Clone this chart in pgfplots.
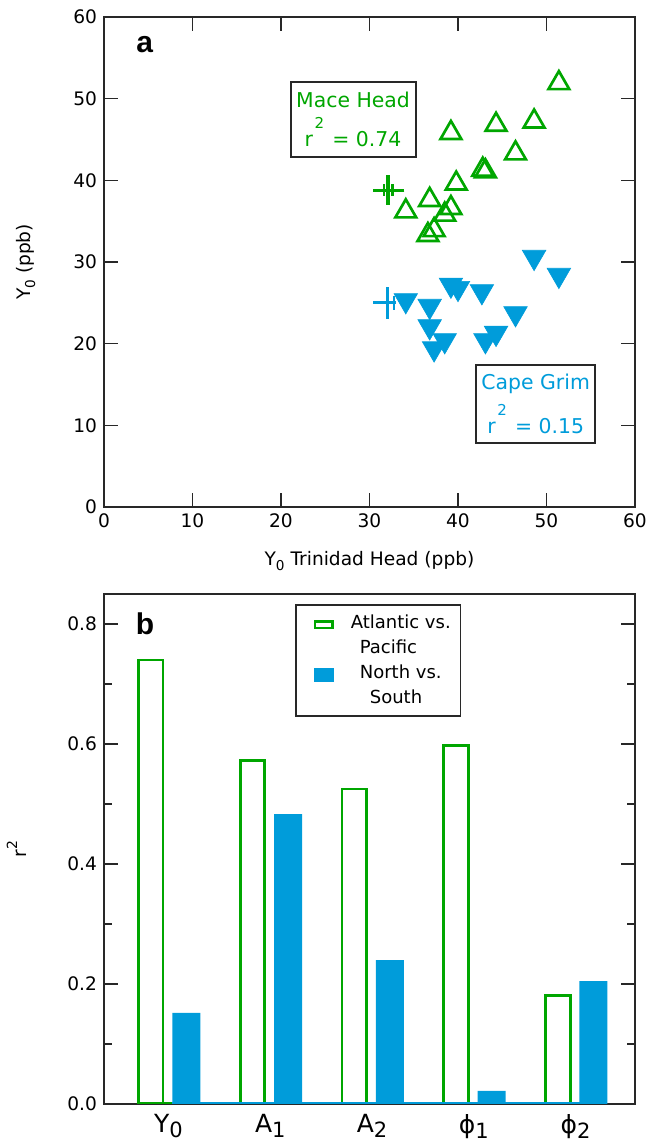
\documentclass[border=0pt]{standalone}
\usepackage{fontspec}
\setmainfont{DejaVu Sans}
\newfontfamily\arialfont{Liberation Sans}
\usepackage{pgfplots}
\pgfplotsset{compat=1.18}
\definecolor{mygreen}{RGB}{0,166,0}
\definecolor{myblue}{RGB}{0,156,218}
\definecolor{frame}{RGB}{40,40,40}
\newcommand{\sub}[1]{\raisebox{-2.2pt}{\fontsize{6.8}{7}\selectfont #1}}
\newcommand{\subb}[1]{\raisebox{-2.5pt}{\fontsize{10.5}{11}\selectfont #1}}
\newcommand{\sq}{\raisebox{9pt}{\fontsize{7.5}{8}\selectfont 2}}
\pgfplotsset{myaxis/.style={scale only axis,
  axis line style={draw=frame,line width=0.75pt},
  tick style={draw=frame,line width=0.75pt},
  tick align=inside, major tick length=7pt, minor tick length=3.8pt,
  every tick label/.append style={font=\fontsize{9.3}{11}\selectfont},
  /pgf/number format/assume math mode=true,
  label style={font=\fontsize{9.3}{11}\selectfont}}}
\begin{document}
\begin{tikzpicture}
\useasboundingbox (-52pt,-18.5pt) rectangle (273.5pt,552pt);
% ---------- panel a ----------
\begin{axis}[myaxis,
  at={(0,298.5pt)}, anchor=south west,
  width=265.5pt, height=245pt,
  xmin=0, xmax=60, ymin=0, ymax=60,
  xtick={0,10,...,60}, ytick={0,10,...,60},
  xlabel={Y\sub{0} Trinidad Head (ppb)},
  ylabel={Y\sub{0} (ppb)},
  xlabel style={at={(axis description cs:0.5,-0.1102)}, anchor=center},
  ylabel style={at={(axis description cs:-0.1469,0.5)}, anchor=center},
  clip=false]
\addplot[only marks, mark=triangle, mark size=6pt, draw=mygreen, line width=1.35pt]
  coordinates {(51.4,51.9) (39.2,45.8) (44.3,46.8) (48.6,47.2) (46.5,43.3)
  (42.8,41.3) (43.1,41.1) (39.8,39.6) (36.8,37.6) (34.1,36.2) (39.2,36.6)
  (38.5,35.8) (37.3,33.9) (36.6,33.3)};
\addplot[only marks, color=myblue, mark=triangle*, mark size=6.8pt,
  mark options={rotate=180, fill=myblue, draw=myblue, line width=0.3pt}]
  coordinates {(48.6,30.6) (51.4,28.4) (39.2,27.2) (40.0,26.8) (42.7,26.4)
  (34.1,25.3) (36.8,24.6) (46.5,23.7) (36.8,22.1) (44.3,21.3) (43.1,20.4)
  (38.5,20.4) (37.3,19.4)};
% crosses (means)
\addplot[only marks, mark=|, mark size=7.5pt, mygreen, line width=1.6pt] coordinates {(32.1,38.8)};
\addplot[only marks, mark=-, mark size=7.9pt, mygreen, line width=1.6pt] coordinates {(32.15,38.8)};
\addplot[only marks, mark=|, mark size=3pt, mygreen, line width=1.3pt] coordinates {(31.65,38.8) (32.6,38.8)};
\addplot[only marks, mark=|, mark size=7.9pt, myblue, line width=1.5pt] coordinates {(32.07,25.0)};
\addplot[only marks, mark=-, mark size=5.8pt, myblue, line width=1.5pt] coordinates {(31.7,25.0)};
\addplot[only marks, mark=|, mark size=3.5pt, myblue, line width=1.3pt] coordinates {(32.75,25.0)};
\node[font=\arialfont\bfseries\fontsize{15}{15}\selectfont, text=black] at (axis cs:4.6,56.6) {a};
\node[draw=frame, line width=1pt, minimum width=62.5pt, minimum height=37.8pt, inner sep=0pt,
  align=center, font=\fontsize{10.2}{12}\selectfont, text=mygreen]
  at (axis cs:28.14,47.45) {Mace Head\\[4pt]r\hspace{0.8pt}\sq\hspace{0.8pt} = 0.74};
\node[draw=frame, line width=1pt, minimum width=59.5pt, minimum height=38.7pt, inner sep=0pt,
  align=center, font=\fontsize{10.2}{12}\selectfont, text=myblue]
  at (axis cs:48.78,12.61) {Cape Grim\\[4pt]r\hspace{0.8pt}\sq\hspace{0.8pt} = 0.15};
\end{axis}
% ---------- panel b ----------
\begin{axis}[myaxis,
  at={(0,0)}, anchor=south west,
  width=265.5pt, height=255pt,
  xmin=-0.634, xmax=4.583, ymin=0, ymax=0.85,
  xtick={0,1,2,3,4},
  xticklabels={Y\subb{0}, A\subb{1}, A\subb{2}, ϕ\subb{1}, ϕ\subb{2}},
  x tick label style={font=\fontsize{12.5}{14}\selectfont, yshift=-1.5pt},
  major x tick style={draw=none},
  ytick={0,0.2,0.4,0.6,0.8}, minor ytick={0.1,0.3,0.5,0.7},
  y tick label style={/pgf/number format/.cd, fixed, fixed zerofill, precision=1, /tikz/.cd},
  ylabel={r\raisebox{4.5pt}{\fontsize{7}{7}\selectfont 2}},
  ylabel style={at={(axis description cs:-0.165,0.5)}, anchor=center},
  legend style={at={(axis cs:1.243,0.8333)}, anchor=north west,
    draw=frame, line width=0.75pt, font=\fontsize{9}{12.5}\selectfont,
    cells={align=left}, inner xsep=3pt, inner ysep=3pt},
  ]
\addplot[ybar, bar width=0.243, bar shift=-0.175, draw=mygreen, fill=none, line width=1.4pt,
  legend image code/.code={\path[draw=none,fill=none] (0pt,0pt) rectangle (22.5pt,0pt);
    \draw[mygreen, line width=1.2pt] (6.6pt,3.85pt) rectangle (15.4pt,7.15pt);}]
  coordinates {(0,0.74) (1,0.573) (2,0.525) (3,0.598) (4,0.181)};
\addlegendentry{Atlantic vs.\\\hspace*{4.5pt}Pacific}
\addplot[ybar, bar width=0.275, bar shift=0.175, draw=none, fill=myblue,
  legend image code/.code={\path[draw=none,fill=none] (0pt,0pt) rectangle (22.5pt,0pt);
    \fill[myblue] (6pt,1.5pt) rectangle (16pt,8.5pt);}]
  coordinates {(0,0.152) (1,0.483) (2,0.240) (3,0.022) (4,0.205)};
\addlegendentry{North vs.\\\hspace*{5pt}South}
\addplot[mygreen, line width=2pt, forget plot] coordinates {(-0.31,0) (0.04,0)};
\addplot[myblue, line width=2pt, forget plot] coordinates {(0.0375,0) (4.3125,0)};
\node[font=\arialfont\bfseries\fontsize{15}{15}\selectfont, text=black] at (axis cs:-0.231,0.80) {b};
\end{axis}
\end{tikzpicture}
\end{document}
